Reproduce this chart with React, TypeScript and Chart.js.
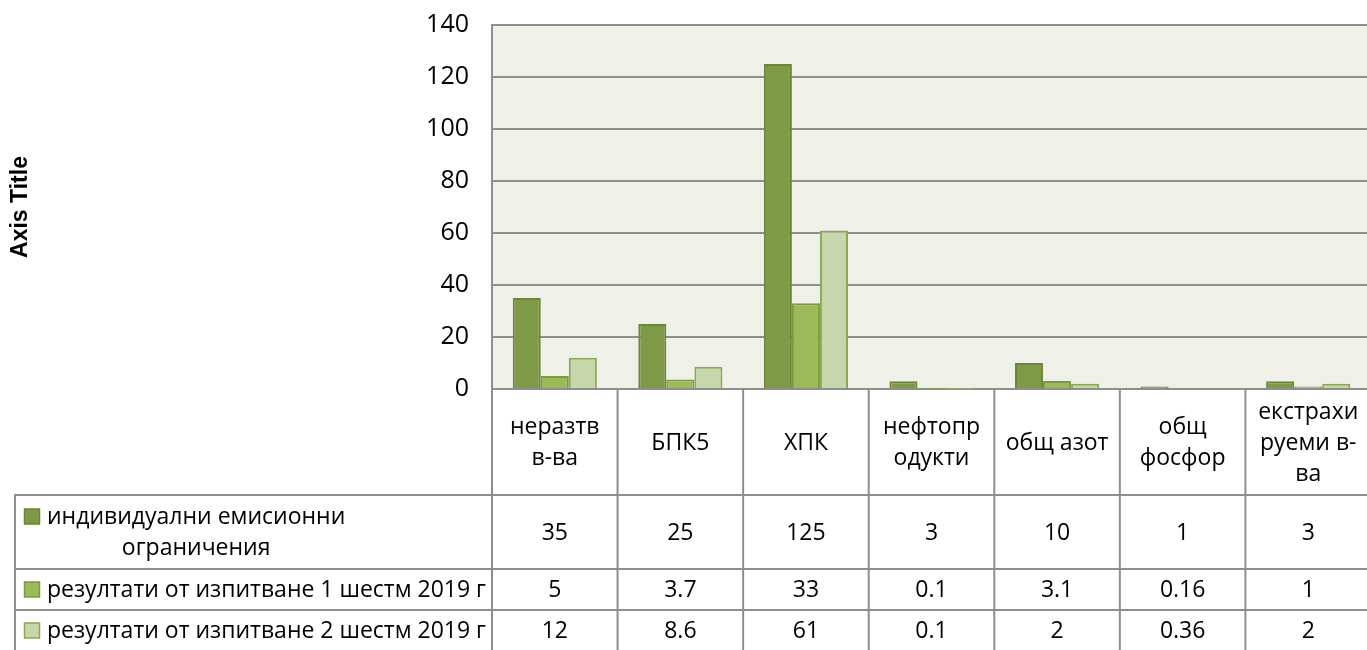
import React, { useEffect, useRef } from "react";
import { Chart, registerables } from "chart.js";

Chart.register(...registerables);

// ---- data ----
const categoryLines: string[][] = [
  ["неразтв", "в-ва"],
  ["БПК5"],
  ["ХПК"],
  ["нефтопр", "одукти"],
  ["общ азот"],
  ["общ", "фосфор"],
  ["екстрахи", "руеми в-", "ва"],
];
const seriesNames: string[] = [
  "индивидуални емисионни ограничения",
  "резултати от изпитване 1 шестм 2019 г",
  "резултати от изпитване 2 шестм 2019 г",
];
const legendLines: string[][] = [
  ["индивидуални емисионни", "ограничения"],
  ["резултати от изпитване 1 шестм 2019 г"],
  ["резултати от изпитване 2 шестм 2019 г"],
];
const limits: number[] = [35, 25, 125, 3, 10, 1, 3];
const half1: number[] = [5, 3.7, 33, 0.1, 3.1, 0.16, 1];
const half2: number[] = [12, 8.6, 61, 0.1, 2, 0.36, 2];
const yMin = 0;
const yMax = 140;
const yStep = 20;
const axisTitle = "Axis Title";

// ---- styles ----
const fills = ["#7E9A47", "#9BBB59", "#C8D7AB"];
const borders = ["#6A8834", "#7B9B3E", "#8AA950"];
const FONT_FAMILY = '"Open Sans", sans-serif';
const FONT_SIZE = 23;
const LINE_COLOR = "#8E8E8E";
const PLOT_BG = "#EFF1E9";

const plotBgPlugin = {
  id: "plotBg",
  beforeDraw(chart: any) {
    const { ctx, chartArea } = chart;
    const { left, top, right, bottom } = chartArea;
    ctx.save();
    ctx.fillStyle = PLOT_BG;
    ctx.fillRect(left, top, right - left, bottom - top);
    ctx.restore();
  },
};

const dataTablePlugin = {
  id: "dataTable",
  afterDraw(chart: any) {
    const { ctx, chartArea } = chart;
    const { left, right, bottom } = chartArea;
    const xs = chart.scales.x;
    const n = categoryLines.length;
    const cw = (right - left) / n;
    const legendLeft = 15;
    const rows = [bottom, bottom + 106, bottom + 180, bottom + 221, bottom + 262];
    const data = chart.data.datasets.map((d: any) => d.data as number[]);

    ctx.save();
    ctx.strokeStyle = LINE_COLOR;
    ctx.lineWidth = 2;
    for (let r = 1; r < rows.length; r++) {
      ctx.beginPath();
      ctx.moveTo(legendLeft - 1, rows[r]);
      ctx.lineTo(chart.width + 10, rows[r]);
      ctx.stroke();
    }
    for (let i = 0; i <= n; i++) {
      const x = left + i * cw;
      ctx.beginPath();
      ctx.moveTo(x, bottom);
      ctx.lineTo(x, rows[rows.length - 1]);
      ctx.stroke();
    }
    ctx.beginPath();
    ctx.moveTo(legendLeft, rows[1] - 1);
    ctx.lineTo(legendLeft, rows[rows.length - 1]);
    ctx.stroke();

    ctx.fillStyle = "#000";
    ctx.font = `${FONT_SIZE}px ${FONT_FAMILY}`;
    ctx.textAlign = "center";
    ctx.textBaseline = "middle";
    const lh = 31;

    const hy = (rows[0] + rows[1]) / 2;
    for (let i = 0; i < n; i++) {
      const cx = xs.getPixelForValue(i);
      const lines = categoryLines[i];
      const y0 = hy - ((lines.length - 1) * lh) / 2;
      lines.forEach((t, k) => ctx.fillText(t, cx, y0 + k * lh + 1));
    }

    for (let s = 0; s < data.length; s++) {
      const ry = (rows[s + 1] + rows[s + 2]) / 2;
      for (let i = 0; i < n; i++) {
        const cx = xs.getPixelForValue(i);
        ctx.fillText(String(data[s][i]), cx, ry + 1);
      }
      const lines = legendLines[s];
      const y0 = ry - ((lines.length - 1) * lh) / 2;
      ctx.fillStyle = fills[s];
      ctx.strokeStyle = borders[s];
      ctx.lineWidth = 1.5;
      ctx.fillRect(24.5, y0 - 7.5, 15, 15);
      ctx.strokeRect(24.5, y0 - 7.5, 15, 15);
      ctx.fillStyle = "#000";
      const widths = lines.map((t) => ctx.measureText(t).width);
      const bw = Math.max(...widths);
      const bx = 47 + bw / 2;
      lines.forEach((t, k) => ctx.fillText(t, bx, y0 + k * lh + 1));
    }
    ctx.restore();
  },
};

export default function App() {
  const ref = useRef<HTMLCanvasElement | null>(null);
  useEffect(() => {
    if (!ref.current) return;
    const chart = new Chart(ref.current, {
      type: "bar",
      data: {
        labels: categoryLines.map((l) => l.join(" ")),
        datasets: [limits, half1, half2].map((vals, i) => ({
          label: seriesNames[i],
          data: vals,
          backgroundColor: fills[i],
          borderColor: borders[i],
          borderWidth: 2,
          categoryPercentage: 0.67,
          barPercentage: 1.0,
        })),
      },
      options: {
        animation: false,
        responsive: false,
        devicePixelRatio: 1,
        layout: { padding: { top: 25, left: 0, right: 0, bottom: 0 } },
        plugins: {
          legend: { display: false },
          tooltip: { enabled: false },
        },
        scales: {
          x: {
            type: "category",
            grid: { display: false },
            ticks: { display: false },
            border: { display: true, color: LINE_COLOR, width: 2 },
            afterFit: (scale: any) => {
              scale.height = 261;
            },
          },
          y: {
            min: yMin,
            max: yMax,
            ticks: {
              stepSize: yStep,
              padding: 23,
              color: "#000",
              font: { family: FONT_FAMILY, size: 25 },
            },
            grid: { color: LINE_COLOR, lineWidth: 2, drawTicks: false },
            border: { display: true, color: LINE_COLOR, width: 2 },
            title: {
              display: true,
              text: axisTitle,
              color: "#000",
              font: { family: '"Liberation Sans", Arial, sans-serif', size: 23, weight: "bold" },
              padding: { top: 7, bottom: 4 },
            },
            afterFit: (scale: any) => {
              scale.width = 492;
              scale.paddingTop = 0;
              scale.paddingBottom = 0;
            },
          },
        },
      },
      plugins: [plotBgPlugin, dataTablePlugin],
    });
    return () => chart.destroy();
  }, []);

  return (
    <div
      style={{
        position: "fixed",
        left: 0,
        top: 0,
        width: 1367,
        height: 650,
        overflow: "hidden",
        background: "#fff",
      }}
    >
      <canvas ref={ref} width={1371} height={650} style={{ width: 1371, height: 650, display: "block" }} />
    </div>
  );
}
